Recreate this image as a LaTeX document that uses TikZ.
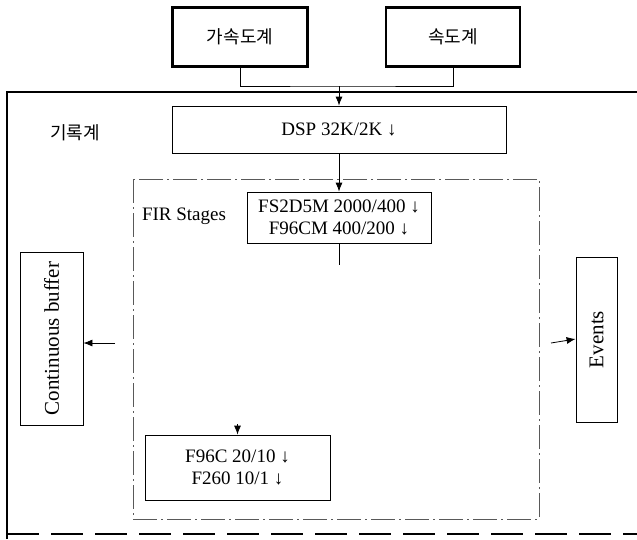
\documentclass[tikz,border=0pt]{standalone}
\usepackage{fontspec}
\setmainfont{Liberation Serif}
\newfontfamily\kr{Noto Sans CJK KR}
\usetikzlibrary{arrows.meta}
\tikzset{
  sensor/.style={draw, line width=2.4pt, inner sep=0pt, font=\kr\fontsize{18}{20}\selectfont},
  plainbox/.style={draw, line width=0.8pt, inner sep=0pt, align=center, font=\fontsize{19}{22}\selectfont},
  conn/.style={line width=0.8pt},
  arrowc/.style={line width=0.8pt, -{Latex[length=9pt,width=7pt]}},
  frame/.style={line width=2.8pt},
  framedash/.style={line width=1.2pt, dash pattern=on 32pt off 12pt},
  firdash/.style={line width=0.7pt, black!65, dash pattern=on 24pt off 4pt on 2pt off 4pt},
  lbl/.style={inner sep=0pt, font=\fontsize{19}{22}\selectfont}
}
\begin{document}
\begin{tikzpicture}[x=1pt,y=-1pt]
\useasboundingbox (0,0) rectangle (637,539);
% outer recorder frame
\draw[frame] (7,539) -- (7,92) -- (637,92);
\draw[framedash] (7,534) -- (637,534);
% FIR stages region
\draw[firdash] (133,179) rectangle (539,519);
% sensors
\node[sensor, minimum width=135, minimum height=59] (b1) at (240,37) {가속도계};
\node[sensor, minimum width=134, minimum height=59] (b2) at (453,37) {속도계};
\coordinate (j) at (339,86);
\draw[conn] (b1.south) |- (j) -| (b2.south);
% labels
\node[inner sep=0pt, font=\kr\fontsize{18}{20}\selectfont] (rec) at (75,133) {기록계};
\node[lbl] (fir) at (184,216) {FIR Stages};
% boxes
\node[plainbox, minimum width=334, minimum height=47] (dsp) at (339,129.5) {DSP 32K/2K ↓};
\node[plainbox, minimum width=184, minimum height=51] (fs) at (339,217.5) {FS2D5M 2000/400 ↓\\F96CM 400/200 ↓};
\node[plainbox, minimum width=185, minimum height=65] (f96) at (237.5,467.5) {F96C 20/10 ↓\\F260 10/1 ↓};
\node[plainbox, minimum width=63, minimum height=173, font=\fontsize{21}{24}\selectfont] (cb) at (51.5,338.5) {\rotatebox{90}{Continuous buffer}};
\node[plainbox, minimum width=41, minimum height=165, font=\fontsize{21}{24}\selectfont] (ev) at (596.5,339.5) {\rotatebox{90}{Events}};
% connectors
\draw[arrowc] (j) -- (j |- dsp.north);
\draw[arrowc] (dsp.south) -- (fs.north);
\coordinate (fsend) at (339,265);
\draw[conn] (fs.south) -- (fsend);
\coordinate (fin) at (237.5,424);
\draw[arrowc] (fin) -- (f96.north);
\coordinate (cbin) at (115,343);
\draw[arrowc] (cbin) -- (cbin -| cb.east);
\coordinate (evin) at (551,343);
\draw[arrowc] (evin) -- ([yshift=4pt]evin -| ev.west);
\end{tikzpicture}
\end{document}
